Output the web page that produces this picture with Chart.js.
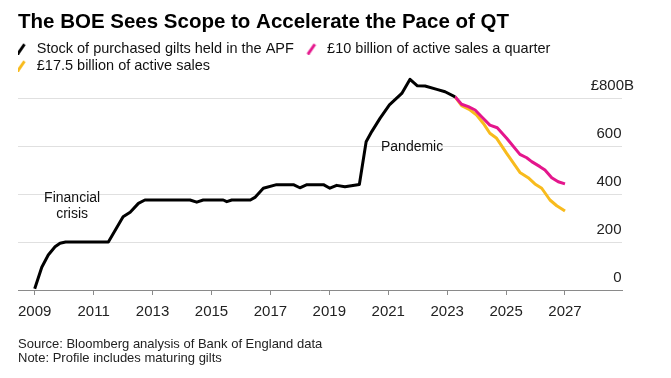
<!DOCTYPE html>
<html>
<head>
<meta charset="utf-8">
<style>
html,body{margin:0;padding:0;background:#ffffff;}
#wrap{width:671px;height:378px;}
</style>
<script src="https://cdn.jsdelivr.net/npm/chart.js@4.4.1/dist/chart.umd.min.js"></script>
</head>
<body>
<div id="wrap"><canvas id="c" width="671" height="378"></canvas></div>
<script>
// ---- text ----
const titleText = 'The BOE Sees Scope to Accelerate the Pace of QT';
const seriesNames = [
  'Stock of purchased gilts held in the APF',
  '£10 billion of active sales a quarter',
  '£17.5 billion of active sales'
];
const footerLines = [
  'Source: Bloomberg analysis of Bank of England data',
  'Note: Profile includes maturing gilts'
];

// ---- data (£ billions, fractional years) ----
const apfYears = [2009.0, 2009.24, 2009.46, 2009.69, 2009.86, 2010.05, 2011.5, 2012.0, 2012.24, 2012.52, 2012.74,
  2014.27, 2014.5, 2014.72, 2015.4, 2015.52, 2015.69, 2016.32, 2016.49, 2016.76, 2017.21, 2017.78, 2018.0, 2018.24,
  2018.8, 2019.02, 2019.25, 2019.53, 2020.02, 2020.25, 2020.44, 2020.72, 2021.04, 2021.46, 2021.74, 2021.99, 2022.25,
  2022.65, 2022.93, 2023.27];
const apfValues = [5, 95, 146, 180, 195, 200, 200, 305, 324, 361, 375,
  375, 366, 375, 375, 368, 375, 375, 387, 424, 439, 439, 426, 439,
  439, 424, 436, 430, 440, 618, 660, 715, 771, 819, 878, 851, 850,
  836, 826, 805];

const sales10Years = [2023.27, 2023.49, 2023.72, 2023.95, 2024.17, 2024.45, 2024.70, 2025.02, 2025.47, 2025.70,
  2025.87, 2026.15, 2026.32, 2026.55, 2026.77, 2027.0];
const sales10Values = [805, 774, 764, 750, 722, 687, 676, 632, 565, 551,
  535, 514, 500, 468, 451, 442];

const sales175Years = [2023.27, 2023.49, 2023.78, 2024.0, 2024.23, 2024.45, 2024.68, 2025.02, 2025.47, 2025.75,
  2025.98, 2026.21, 2026.49, 2026.72, 2027.0];
const sales175Values = [805, 768, 750, 729, 694, 653, 632, 569, 490, 468,
  442, 424, 375, 351, 329];

const xTickYears = [2009, 2011, 2013, 2015, 2017, 2019, 2021, 2023, 2025, 2027];
const yTickValues = [0, 200, 400, 600, 800];

const annotationTexts = [['Financial', 'crisis'], ['Pandemic']];
const annotationX = [2010.27, 2021.81];
const annotationY = [350, 596];

// ---- styling ----
const FONT = "'Liberation Sans', Arial, Helvetica, sans-serif";
const colors = ['#000000', '#e4168c', '#f8bb1d'];

function slashIcon(color) {
  const c = document.createElement('canvas');
  c.width = 24; c.height = 12;
  const g = c.getContext('2d');
  g.strokeStyle = color; g.lineWidth = 3; g.lineCap = 'butt';
  g.beginPath(); g.moveTo(4.5, 11.5); g.lineTo(11.5, 1.5); g.stroke();
  return c;
}
const icons = colors.map(slashIcon);

function pts(xs, ys) { return xs.map((x, i) => ({x: x, y: ys[i]})); }

const annotationPlugin = {
  id: 'annot',
  afterDatasetsDraw(chart) {
    const {ctx} = chart;
    const xs = chart.scales.x, ys = chart.scales.y;
    ctx.save();
    ctx.font = '14px ' + FONT;
    ctx.fillStyle = '#111111';
    ctx.textAlign = 'center';
    ctx.textBaseline = 'middle';
    annotationTexts.forEach((lines, i) => {
      const px = xs.getPixelForValue(annotationX[i]);
      const py = ys.getPixelForValue(annotationY[i]);
      const lh = 16;
      lines.forEach((t, j) => ctx.fillText(t, px, py + (j - (lines.length - 1) / 2) * lh));
    });
    ctx.restore();
  }
};

const lineDs = (label, data, color) => ({
  label: label, data: data, borderColor: color, backgroundColor: color,
  borderWidth: 3, pointRadius: 0, tension: 0, fill: false, clip: false,
  borderJoinStyle: 'round', borderCapStyle: 'butt'
});

new Chart(document.getElementById('c'), {
  type: 'line',
  data: {
    datasets: [
      lineDs(seriesNames[0], pts(apfYears, apfValues), colors[0]),
      lineDs(seriesNames[1], pts(sales10Years, sales10Values), colors[1]),
      lineDs(seriesNames[2], pts(sales175Years, sales175Values), colors[2])
    ]
  },
  options: {
    responsive: false,
    animation: false,
    devicePixelRatio: 1,
    layout: {padding: {left: 18, right: 25, top: 0, bottom: 0}},
    plugins: {
      tooltip: {enabled: false},
      title: {
        display: true, text: titleText, align: 'start', color: '#000000',
        font: {family: FONT, size: 20.5, weight: 'bold', lineHeight: '24px'},
        padding: {top: 10, bottom: 5}
      },
      subtitle: {
        display: true, text: footerLines, position: 'bottom', align: 'start', color: '#222222',
        font: {family: FONT, size: 13, weight: 'normal', lineHeight: '14.5px'},
        padding: {top: 7.75, bottom: 12.25}
      },
      legend: {
        display: true, align: 'start',
        labels: {
          usePointStyle: true, pointStyleWidth: 9, padding: 2.5, color: '#111111',
          font: {family: FONT, size: 14.5},
          generateLabels(chart) {
            const items = Chart.defaults.plugins.legend.labels.generateLabels(chart);
            items.forEach((it, i) => {
              it.pointStyle = icons[i];
              if (i === 0) it.text = it.text + '\u2003';
            });
            return items;
          }
        }
      }
    },
    scales: {
      x: {
        type: 'linear', min: 2008.433, max: 2028.935,
        afterBuildTicks(scale) { scale.ticks = xTickYears.map(v => ({value: v})); },
        grid: {display: true, drawOnChartArea: false, drawTicks: true, tickLength: 5, tickColor: '#8a8a8a', tickWidth: 1},
        border: {display: true, color: '#8a8a8a', width: 1},
        ticks: {
          autoSkip: false, maxRotation: 0, padding: 8, color: '#222222',
          font: {family: FONT, size: 15},
          callback: v => String(v)
        }
      },
      y: {
        type: 'linear', position: 'right', min: 0, max: 862.5,
        afterBuildTicks(scale) { scale.ticks = yTickValues.map(v => ({value: v})); },
        grid: {
          drawTicks: false,
          color: ctx => (ctx.tick && ctx.tick.value === 0) ? 'rgba(0,0,0,0)' : '#e0e0e0',
          lineWidth: 1
        },
        border: {display: false},
        ticks: {
          mirror: true, padding: 12, labelOffset: -12, crossAlign: 'near', color: '#222222',
          font: {family: FONT, size: 15},
          callback: v => v === 800 ? '£800B' : String(v) + '   '
        }
      }
    }
  },
  plugins: [annotationPlugin]
});
</script>
</body>
</html>
